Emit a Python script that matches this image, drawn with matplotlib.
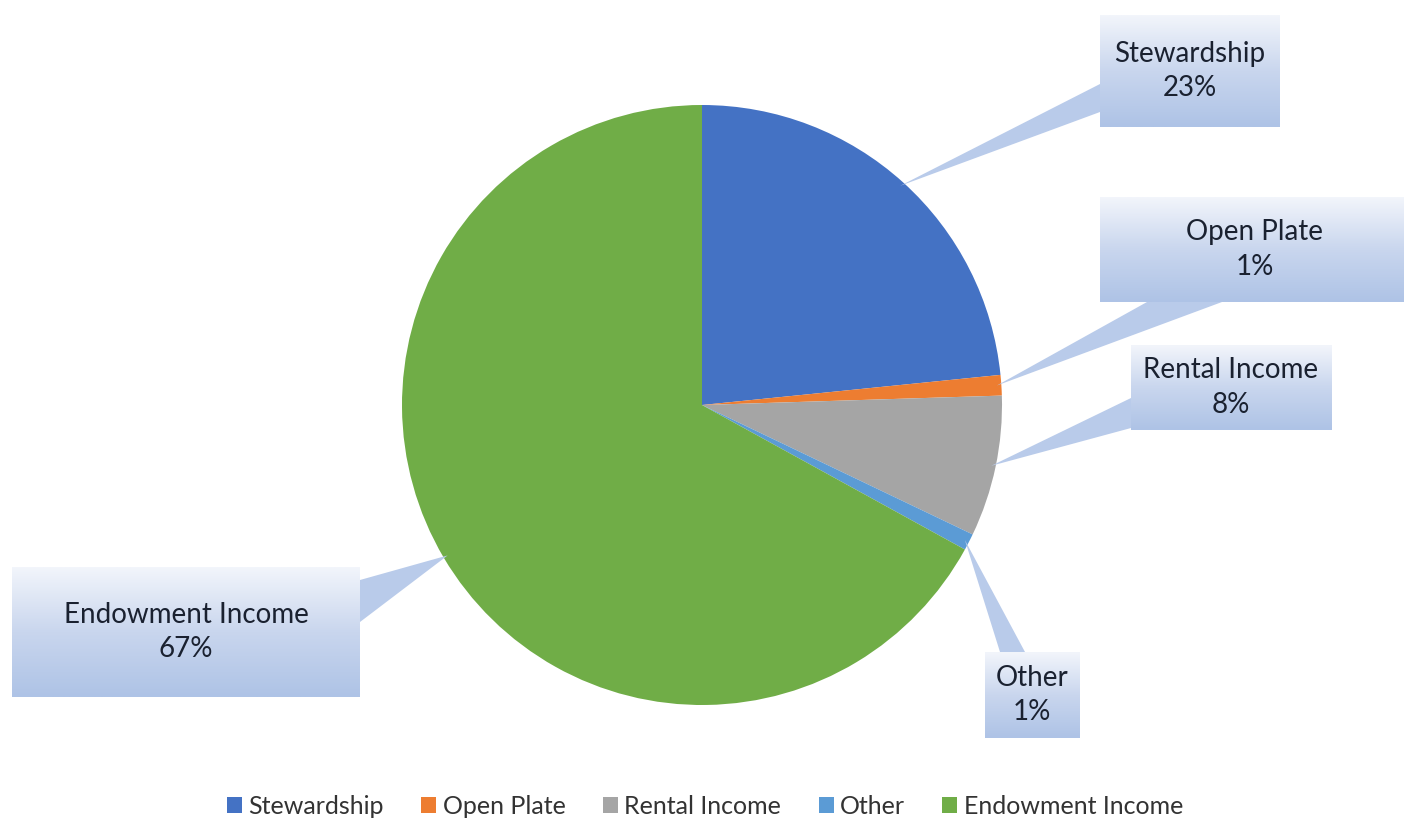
import matplotlib.pyplot as plt
import numpy as np
from matplotlib.patches import Polygon
from matplotlib.colors import LinearSegmentedColormap

# data
categories = ['Stewardship', 'Open Plate', 'Rental Income', 'Other', 'Endowment Income']
shares = [23.4, 1.1, 7.6, 0.9, 67.0]
colors = ['#4472C4', '#ED7D31', '#A5A5A5', '#5B9BD5', '#70AD47']

W, H = 1404, 823
plt.rcParams['font.family'] = ['Lato', 'DejaVu Sans']

fig = plt.figure(figsize=(W / 100, H / 100), dpi=100)
ax = fig.add_axes([0, 0, 1, 1])

# pie, centre and radius in pixel units (y measured from bottom)
cx, cy, r = 702, H - 405, 300
wedges, _ = ax.pie(shares, colors=colors, startangle=90, counterclock=False,
                   center=(cx, cy), radius=r, frame=True,
                   wedgeprops=dict(linewidth=0))

# callout boxes: (x0, y0_top, x1, y1_bottom) in image pixels, and base of pointer
boxes = [
    ((1100, 15, 1280, 127), [(1100, 84), (1100, 112)]),
    ((1100, 197, 1410, 302), [(1147, 302), (1222, 302)]),
    ((1131, 345, 1332, 430), [(1131, 398), (1131, 428)]),
    ((985, 652, 1080, 738), [(1000, 652), (1025, 652)]),
    ((12, 567, 360, 697), [(360, 580), (360, 622)]),
]
text_x = [1190, 1255, 1231, 1032, 186]

grad_cmap = LinearSegmentedColormap.from_list('callout', ['#f2f5fb', '#c9d6ee', '#aec3e6'])
grad = np.linspace(0, 1, 100).reshape(-1, 1)

for w, name, val, (box, base), tx in zip(wedges, categories, shares, boxes, text_x):
    x0, t, x1, b = box
    mid = np.deg2rad((w.theta1 + w.theta2) / 2)
    tip = (cx + 0.985 * r * np.cos(mid), cy + 0.985 * r * np.sin(mid))
    pts = [tip] + [(px, H - py) for px, py in base]
    ax.add_patch(Polygon(pts, closed=True, facecolor='#b9cbea', edgecolor='none', zorder=3))
    ax.imshow(grad, extent=[x0, x1, H - b, H - t], cmap=grad_cmap, aspect='auto',
              origin='upper', zorder=4)
    ax.text(tx, H - (t + b) / 2, f'{name}\n{round(val):d}%', ha='center', va='center',
            fontsize=20, color='#1a2130', linespacing=1.4, zorder=5)

leg = ax.legend(wedges, categories, loc='center', bbox_to_anchor=(705 / W, 17 / H),
                ncol=5, frameon=False, fontsize=18, handlelength=0.6, handleheight=0.6,
                handletextpad=0.25, columnspacing=1.5, labelcolor='#333333')

ax.set_xlim(0, W)
ax.set_ylim(0, H)
ax.set_aspect('equal')
ax.axis('off')

fig.savefig('out.png', dpi=100, facecolor='white')
